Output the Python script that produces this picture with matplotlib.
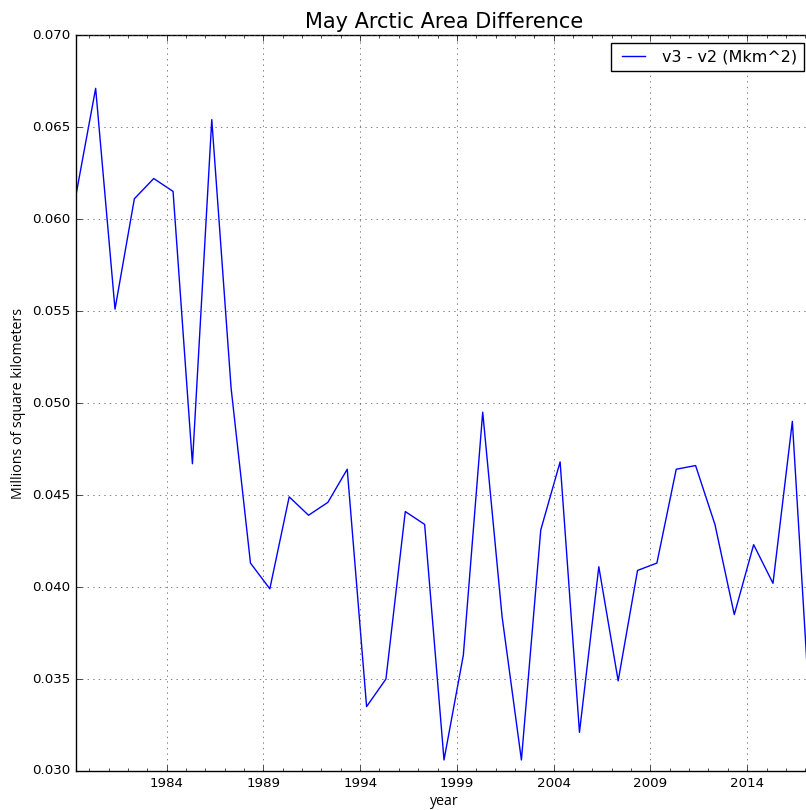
import numpy as np
import matplotlib
matplotlib.use('Agg')
import matplotlib.pyplot as plt
plt.style.use('classic')

# May values, v3 minus v2 (million km^2)
years = np.arange(1979, 2018)
diff = [0.0614, 0.0671, 0.0551, 0.0611, 0.0622, 0.0615, 0.0467, 0.0654,
        0.0508, 0.0413, 0.0399, 0.0449, 0.0439, 0.0446, 0.0464, 0.0335,
        0.0350, 0.0441, 0.0434, 0.0306, 0.0363, 0.0495, 0.0384, 0.0306,
        0.0431, 0.0468, 0.0321, 0.0411, 0.0349, 0.0409, 0.0413, 0.0464,
        0.0466, 0.0434, 0.0385, 0.0423, 0.0402, 0.0490, 0.0315]
major_years = [1984, 1989, 1994, 1999, 2004, 2009, 2014]

# May -> year + 4/12
x = years + 4.0 / 12

fig = plt.figure(figsize=(8.06, 8.10), dpi=100)
ax = fig.add_axes([76.3 / 806, 39.0 / 810, (811.7 - 76.3) / 806, 736.0 / 810])

ax.plot(x, diff, color='b', lw=1, label='v3 - v2 (Mkm^2)')
ax.set_xlim(x[0], x[-1])
ax.set_ylim(0.030, 0.070)
ax.set_xticks(major_years)
ax.set_xticklabels([str(y) for y in major_years])
ax.set_xticks(np.arange(1980, 2018, 1), minor=True)
ax.set_yticks(np.arange(0.030, 0.0701, 0.005))
ax.set_yticklabels(['%.3f' % v for v in np.arange(0.030, 0.0701, 0.005)])
ax.tick_params(axis='both', which='major', labelsize=9.6)
ax.tick_params(axis='y', which='minor', left=False, right=False)
ax.grid(True, which='major', color='0.3')

ax.set_title('May Arctic Area Difference', fontsize=15)
ax.set_xlabel('year', family=['Open Sans', 'DejaVu Sans'], fontsize=10.2, labelpad=3.5)
ax.set_ylabel('Millions of square kilometers', family=['Open Sans', 'DejaVu Sans'], fontsize=10.2)

ax.legend(loc='upper right', fontsize=11.5, borderaxespad=0.5)

fig.savefig('out.png', dpi=100)
